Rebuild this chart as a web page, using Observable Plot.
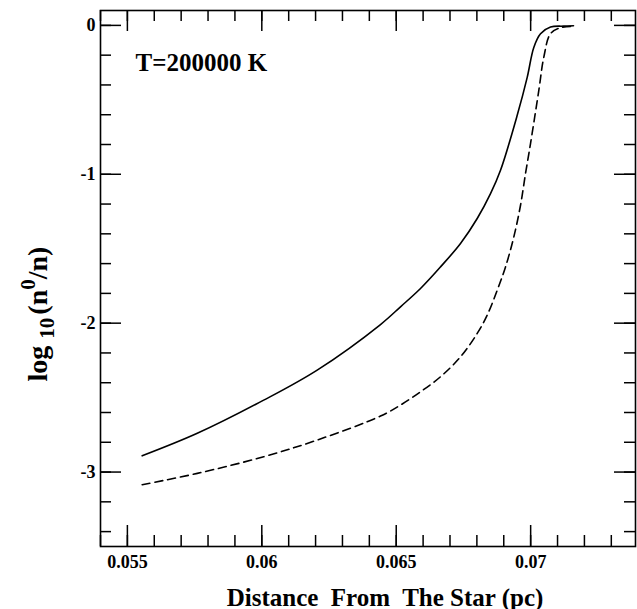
<!DOCTYPE html>
<html>
<head>
<meta charset="utf-8">
<script src="https://cdn.jsdelivr.net/npm/d3@7"></script>
<script src="https://cdn.jsdelivr.net/npm/@observablehq/plot@0.6"></script>
<style>
  html, body { margin: 0; padding: 0; background: #fff; }
  #chart svg { display: block; }
</style>
</head>
<body>
<div id="chart"></div>
<script>
// Ionization profile: log10(n0/n) against distance from the star
const solidX = [0.05555, 0.0576, 0.06007, 0.06206, 0.064415, 0.065159, 0.065903, 0.066647, 0.067391, 0.068012, 0.068507, 0.068879, 0.0695, 0.069872, 0.070117, 0.070367, 0.070739, 0.071222, 0.071594];
const solidY = [-2.891, -2.740, -2.517, -2.315, -2.009, -1.890, -1.767, -1.622, -1.465, -1.297, -1.130, -0.973, -0.604, -0.349, -0.148, -0.056, -0.011, -0.005, -0.002];

const dashedX = [0.05555, 0.0576, 0.06007, 0.06206, 0.064415, 0.065159, 0.065903, 0.066647, 0.067391, 0.068012, 0.068384, 0.068756, 0.069065, 0.069374, 0.069623, 0.069809, 0.069995, 0.070304, 0.07049, 0.070739, 0.071111, 0.071483];
const dashedY = [-3.085, -3.009, -2.897, -2.785, -2.624, -2.550, -2.461, -2.360, -2.226, -2.069, -1.946, -1.779, -1.622, -1.421, -1.208, -0.995, -0.794, -0.436, -0.213, -0.056, -0.015, -0.007];

const xMajor = [0.055, 0.06, 0.065, 0.07];
const xTickLabels = ["0.055", "0.06", "0.065", "0.07"];
const xMinor = d3.range(54, 74).map(v => v / 1000);

const yMajor = [0, -1, -2, -3];
const yTickLabels = ["0", "-1", "-2", "-3"];
const yMinor = d3.range(-17, 1).map(v => v / 5);

const xTitle = "Distance\u00a0 From\u00a0 The Star (pc)";
const annotation = "T=200000 K";

const solid = solidX.map((x, i) => ({x, y: solidY[i]}));
const dashed = dashedX.map((x, i) => ({x, y: dashedY[i]}));

const W = 637, H = 609;
const mL = 100, mR = 2, mT = 10, mB = 63;
const frameH = H - mT - mB, frameW = W - mL - mR;
const major = 21, minor = 11;
const font = "'Liberation Serif', 'Times New Roman', serif";

const plot = Plot.plot({
  width: W,
  height: H,
  marginLeft: mL,
  marginRight: mR,
  marginTop: mT,
  marginBottom: mB,
  style: {fontFamily: font, background: "#fff", color: "#000"},
  x: {domain: [0.054, 0.0739], axis: null},
  y: {domain: [-3.5, 0.1], axis: null},
  marks: [
    // inward ticks on all four sides
    Plot.tickX(xMajor, {x: d => d, insetTop: frameH - major, strokeWidth: 1.5}),
    Plot.tickX(xMajor, {x: d => d, insetBottom: frameH - major, strokeWidth: 1.5}),
    Plot.tickX(xMinor, {x: d => d, insetTop: frameH - minor, strokeWidth: 1.5}),
    Plot.tickX(xMinor, {x: d => d, insetBottom: frameH - minor, strokeWidth: 1.5}),
    Plot.tickY(yMajor, {y: d => d, insetRight: frameW - major, strokeWidth: 1.5}),
    Plot.tickY(yMajor, {y: d => d, insetLeft: frameW - major, strokeWidth: 1.5}),
    Plot.tickY(yMinor, {y: d => d, insetRight: frameW - minor, strokeWidth: 1.5}),
    Plot.tickY(yMinor, {y: d => d, insetLeft: frameW - minor, strokeWidth: 1.5}),
    Plot.axisX(xMajor, {
      anchor: "bottom", tickSize: 0, tickPadding: 9,
      tickFormat: (d, i) => xTickLabels[i],
      fontSize: 18, fontWeight: "bold", label: null
    }),
    Plot.axisY(yMajor, {
      anchor: "left", tickSize: 0, tickPadding: 5,
      tickFormat: (d, i) => yTickLabels[i],
      fontSize: 18, fontWeight: "bold", label: null
    }),
    Plot.frame({stroke: "#000", strokeWidth: 1.6}),
    Plot.line(solid, {x: "x", y: "y", curve: "catmull-rom", stroke: "#000", strokeWidth: 1.6}),
    Plot.line(dashed, {x: "x", y: "y", curve: "catmull-rom", stroke: "#000", strokeWidth: 1.6, strokeDasharray: "8,5"}),
    Plot.text([annotation], {
      frameAnchor: "top-left", dx: 35, dy: 60, lineAnchor: "bottom", textAnchor: "start",
      fontSize: 25, fontWeight: "bold", fill: "#000"
    }),
    Plot.text([xTitle], {
      frameAnchor: "bottom", dx: 17, dy: 59, lineAnchor: "bottom",
      fontSize: 25, fontWeight: "bold", fill: "#000"
    })
  ]
});

// y-axis title with subscript and superscript
const svg = d3.select(plot);
const yt = svg.append("text")
  .attr("transform", "translate(47,314) rotate(-90)")
  .attr("text-anchor", "middle")
  .attr("font-family", font)
  .attr("font-weight", "bold")
  .attr("font-size", 28)
  .attr("fill", "#000");
yt.append("tspan").text("log");
yt.append("tspan").attr("dx", 7).attr("dy", 7).attr("font-size", 21).text("10");
yt.append("tspan").attr("dx", 3).attr("dy", -7).text("(n");
yt.append("tspan").attr("dy", -12).attr("font-size", 21).text("0");
yt.append("tspan").attr("dy", 12).text("/n)");

document.getElementById("chart").append(plot);
</script>
</body>
</html>
